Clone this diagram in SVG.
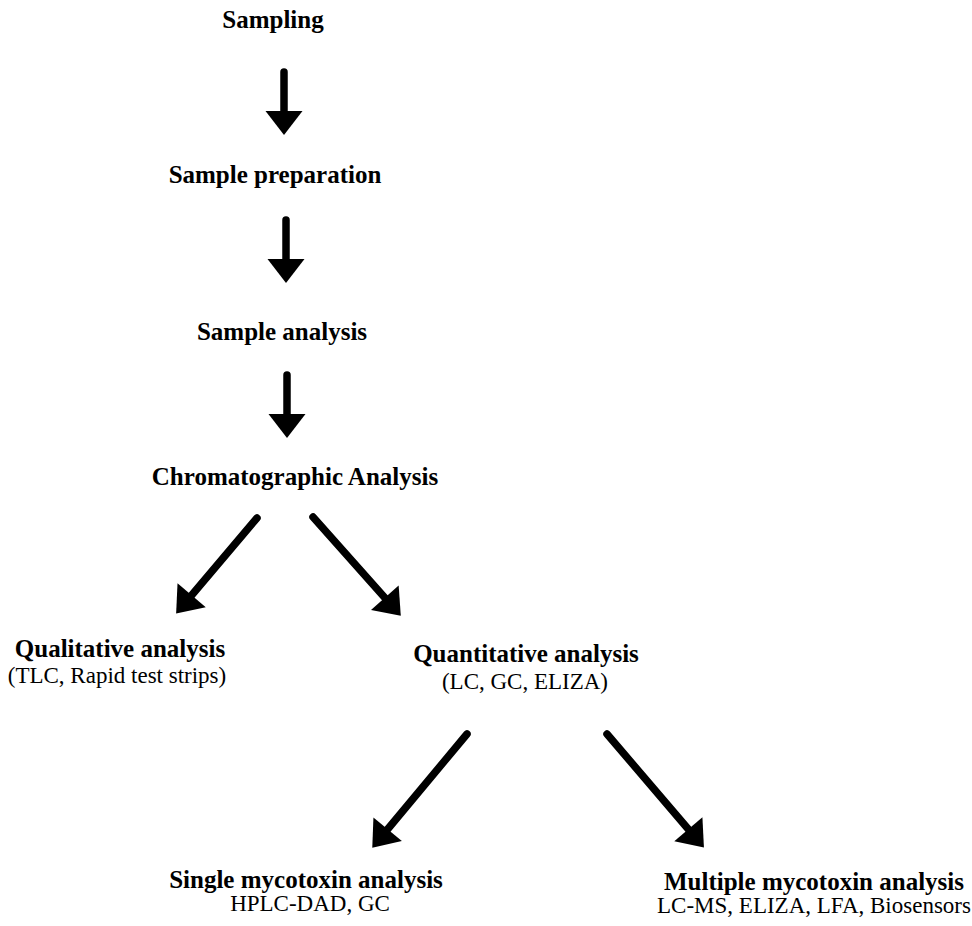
<svg xmlns="http://www.w3.org/2000/svg" width="972" height="926" viewBox="0 0 972 926">
<style>
text{font-family:"Liberation Serif","Times New Roman",serif;fill:#000;text-anchor:middle}
.t{font-weight:bold;font-size:25px}
.s{font-size:23px}
.c{stroke:#000;stroke-width:7.5;stroke-linecap:round;fill:none;marker-end:url(#ah)}
</style>
<defs>
<marker id="ah" markerUnits="userSpaceOnUse" viewBox="0 -19 24 38" refX="0" refY="0" markerWidth="24" markerHeight="38" orient="auto" overflow="visible">
<path d="M-1,-18.5 L23,0 L-1,18.5 Z" fill="#000"/>
</marker>
</defs>
<rect width="972" height="926" fill="#fff"/>
<g id="connectors">
<line class="c" x1="284" y1="72" x2="284" y2="112"/>
<line class="c" x1="286" y1="220" x2="286" y2="260"/>
<line class="c" x1="287" y1="375" x2="287" y2="415"/>
<line class="c" x1="257" y1="518" x2="191" y2="596"/>
<line class="c" x1="313" y1="517" x2="385.5" y2="598.5"/>
<line class="c" x1="467" y1="734" x2="387" y2="830"/>
<line class="c" x1="607" y1="734" x2="689" y2="830"/>
</g>
<g id="sampling"><text class="t" x="273" y="28">Sampling</text></g>
<g id="sample-preparation"><text class="t" x="275" y="183">Sample preparation</text></g>
<g id="sample-analysis"><text class="t" x="282" y="340">Sample analysis</text></g>
<g id="chromatographic-analysis"><text class="t" x="295" y="485">Chromatographic Analysis</text></g>
<g id="qualitative-analysis">
<text class="t" x="120" y="657">Qualitative analysis</text>
<text class="s" x="117" y="683">(TLC, Rapid test strips)</text>
</g>
<g id="quantitative-analysis">
<text class="t" x="526" y="662">Quantitative analysis</text>
<text class="s" x="525" y="689">(LC, GC, ELIZA)</text>
</g>
<g id="single-mycotoxin-analysis">
<text class="t" x="306" y="888">Single mycotoxin analysis</text>
<text class="s" x="310" y="911">HPLC-DAD, GC</text>
</g>
<g id="multiple-mycotoxin-analysis">
<text class="t" x="814" y="890">Multiple mycotoxin analysis</text>
<text class="s" x="814" y="913">LC-MS, ELIZA, LFA, Biosensors</text>
</g>
</svg>
